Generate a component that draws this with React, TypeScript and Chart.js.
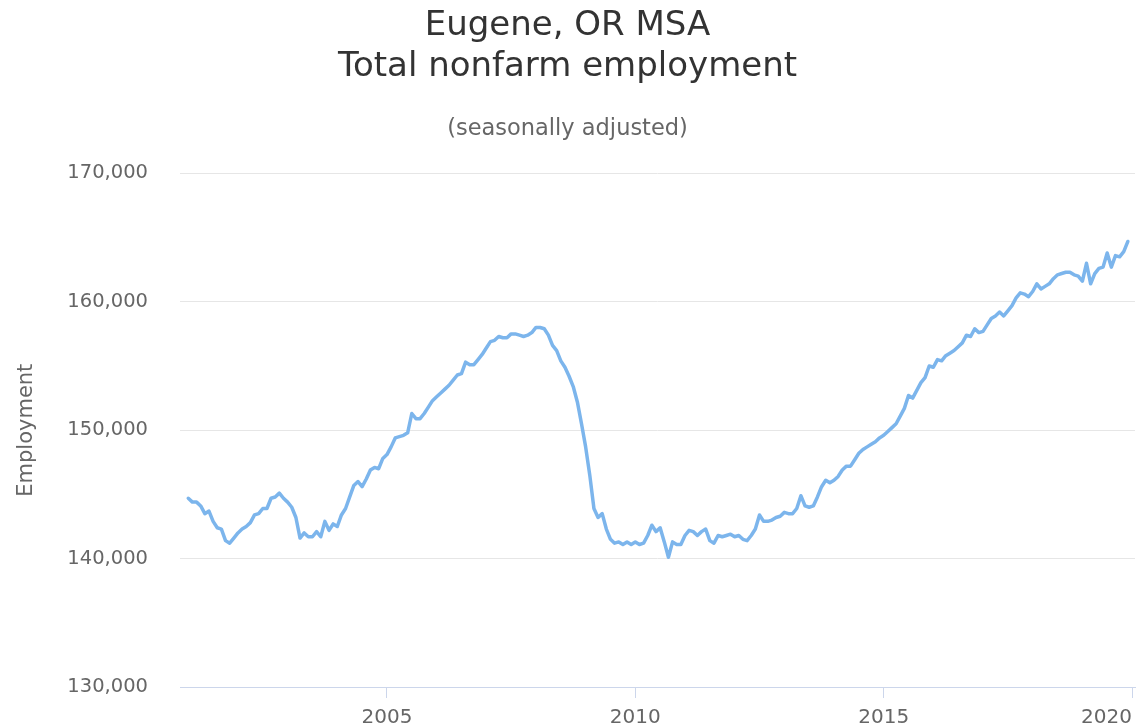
import React, { useEffect, useRef } from "react";
import { Chart, registerables } from "chart.js";

Chart.register(...registerables);

// Monthly total nonfarm employment, Jan 2001 .. Dec 2019 (seasonally adjusted)
const startYear = 2001;
const employment: number[] = [
  // 2001
  144700, 144400, 144400, 144100, 143500, 143700, 142900, 142400, 142300, 141400, 141200, 141600,
  // 2002
  142000, 142300, 142500, 142800, 143400, 143500, 143900, 143900, 144700, 144800, 145100, 144700,
  // 2003
  144400, 144000, 143200, 141600, 142000, 141700, 141700, 142100, 141700, 142900, 142200, 142700,
  // 2004
  142500, 143400, 143900, 144800, 145700, 146000, 145600, 146200, 146900, 147100, 147000, 147800,
  // 2005
  148100, 148700, 149400, 149500, 149600, 149800, 151300, 150900, 150900, 151300, 151800, 152300,
  // 2006
  152600, 152900, 153200, 153500, 153900, 154300, 154400, 155300, 155100, 155100, 155500, 155900,
  // 2007
  156400, 156900, 157000, 157300, 157200, 157200, 157500, 157500, 157400, 157300, 157400, 157600,
  // 2008
  158000, 158000, 157900, 157400, 156600, 156200, 155400, 154900, 154200, 153400, 152200, 150500,
  // 2009
  148700, 146500, 143900, 143200, 143500, 142300, 141500, 141200, 141300, 141100, 141300, 141100,
  // 2010
  141300, 141100, 141200, 141800, 142600, 142100, 142400, 141300, 140100, 141300, 141100, 141100,
  // 2011
  141800, 142200, 142100, 141800, 142100, 142300, 141400, 141200, 141800, 141700, 141800, 141900,
  // 2012
  141700, 141800, 141500, 141400, 141800, 142300, 143400, 142900, 142900, 143000, 143200, 143300,
  // 2013
  143600, 143500, 143500, 143900, 144900, 144100, 144000, 144100, 144800, 145600, 146100, 145900,
  // 2014
  146100, 146400, 146900, 147200, 147200, 147700, 148200, 148500, 148700, 148900, 149100, 149400,
  // 2015
  149600, 149900, 150200, 150500, 151100, 151700, 152700, 152500, 153100, 153700, 154100, 155000,
  // 2016
  154900, 155500, 155400, 155800, 156000, 156200, 156500, 156800, 157400, 157300, 157900, 157600,
  // 2017
  157700, 158200, 158700, 158900, 159200, 158900, 159300, 159700, 160300, 160700, 160600, 160400,
  // 2018
  160800, 161400, 161000, 161200, 161400, 161800, 162100, 162200, 162300, 162300, 162100, 162000,
  // 2019
  161600, 163000, 161400, 162200, 162600, 162700, 163800, 162700, 163600, 163500, 163900, 164700,
];

const xTickYears = [2005, 2010, 2015, 2020];
const xMin = 2000 + 10 / 12;
const xMax = 2020.06;
const yMin = 130000;
const yMax = 170000;
const yStep = 10000;

const titleLines = ["Eugene, OR MSA", "Total nonfarm employment"];
const subtitleText = "(seasonally adjusted)";
const yAxisTitle = "Employment";

const FONT = "'DejaVu Sans', sans-serif";

export default function App() {
  const canvasRef = useRef<HTMLCanvasElement | null>(null);

  useEffect(() => {
    if (!canvasRef.current) return;
    const points = employment.map((v, i) => ({ x: startYear + i / 12, y: v }));
    const chart = new Chart(canvasRef.current, {
      type: "line",
      data: {
        datasets: [
          {
            data: points,
            borderColor: "#7cb5ec",
            backgroundColor: "#7cb5ec",
            borderWidth: 3.5,
            pointRadius: 0,
            tension: 0,
            borderJoinStyle: "round",
            borderCapStyle: "round",
            fill: false,
          },
        ],
      },
      options: {
        animation: false,
        responsive: true,
        maintainAspectRatio: false,
        layout: { padding: { left: 0, right: 3, top: 0, bottom: 0 } },
        plugins: {
          legend: { display: false },
          tooltip: { enabled: false },
          title: {
            display: true,
            text: titleLines,
            color: "#333333",
            font: { family: FONT, size: 34, weight: "normal", lineHeight: 1.191 },
            padding: { top: 6, bottom: 0 },
          },
          subtitle: {
            display: true,
            text: subtitleText,
            color: "#666666",
            font: { family: FONT, size: 22.5, weight: "normal", lineHeight: 1.2 },
            padding: { top: 29, bottom: 30.4 },
          },
        },
        scales: {
          x: {
            type: "linear",
            min: xMin,
            max: xMax,
            afterBuildTicks: (scale: any) => {
              scale.ticks = [{ value: xMin }, ...xTickYears.map((y) => ({ value: y }))];
            },
            afterFit: (scale: any) => {
              scale.height = 40;
              scale.paddingLeft = 0;
              scale.paddingRight = 0;
            },
            ticks: {
              autoSkip: false,
              maxRotation: 0,
              align: "inner",
              padding: 8,
              color: "#666666",
              font: { family: FONT, size: 20 },
              callback: (value: any, index: number) => (index === 0 ? "" : String(value)),
            },
            grid: {
              display: true,
              drawOnChartArea: false,
              drawTicks: true,
              tickLength: 11,
              tickColor: (ctx: any) => (ctx.index === 0 ? "rgba(0,0,0,0)" : "#ccd6eb"),
              lineWidth: 1,
            },
            border: { display: true, color: "#ccd6eb", width: 1 },
          },
          y: {
            min: yMin,
            max: yMax,
            afterFit: (scale: any) => {
              scale.width = 180;
              scale.paddingTop = 0;
              scale.paddingBottom = 0;
            },
            ticks: {
              stepSize: yStep,
              padding: 32,
              color: "#666666",
              font: { family: FONT, size: 19.5 },
              callback: (value: any) => Number(value).toLocaleString("en-US"),
            },
            grid: {
              color: "#e6e6e6",
              lineWidth: 1,
              drawTicks: false,
            },
            border: { display: false },
            title: {
              display: true,
              text: yAxisTitle,
              color: "#666666",
              font: { family: FONT, size: 21, weight: "normal" },
              padding: { top: 14, bottom: 0 },
            },
          },
        },
      },
    });
    return () => chart.destroy();
  }, []);

  return (
    <div style={{ position: "absolute", left: 0, top: 0, width: 1138, height: 727, background: "#fff" }}>
      <canvas ref={canvasRef} />
    </div>
  );
}
